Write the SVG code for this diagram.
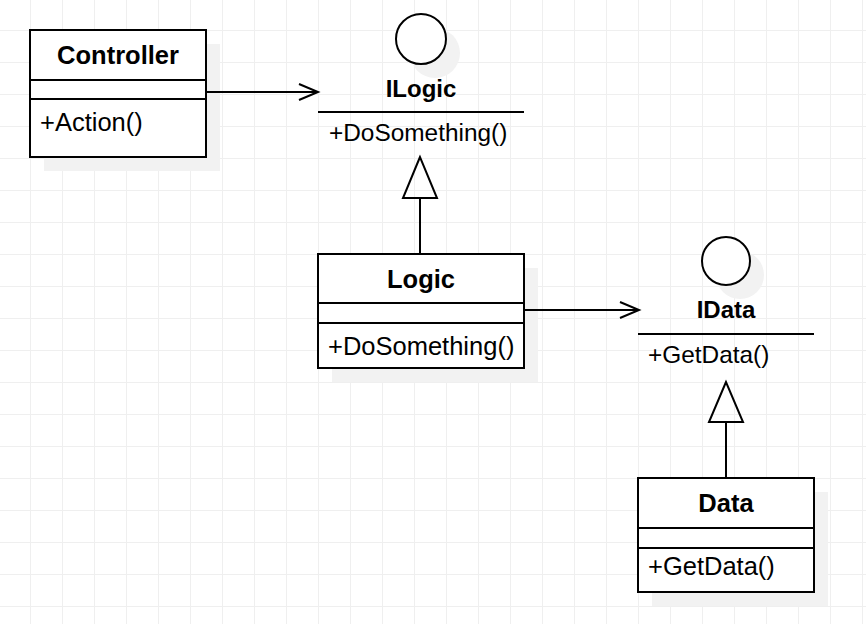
<svg xmlns="http://www.w3.org/2000/svg" width="866" height="624" viewBox="0 0 866 624">
<defs>
<pattern id="grid" x="30" y="30" width="32" height="32" patternUnits="userSpaceOnUse">
<path d="M0.5 0V32M0 0.5H32" fill="none" stroke="#efefef" stroke-width="1"/>
</pattern>
<marker id="open" markerUnits="userSpaceOnUse" markerWidth="24" markerHeight="20" refX="21" refY="10" orient="auto">
<path d="M2 2L21 10L2 18" fill="none" stroke="#000" stroke-width="2"/>
</marker>
</defs>
<style>
.box{fill:#fff;stroke:#000;stroke-width:2}
.sh{fill:#f2f2f2}
.ln{stroke:#000;stroke-width:2;fill:none}
.t{font-family:"Liberation Sans",Arial,sans-serif;font-size:25.5px;fill:#000}
.b{font-weight:bold;text-anchor:middle}
.it{font-size:24.4px}
.ib{font-size:24px}
</style>
<rect width="866" height="624" fill="#fff"/>
<rect width="866" height="624" fill="url(#grid)"/>
<g id="Controller">
<rect class="sh" x="44" y="44" width="176" height="127"/>
<rect class="box" x="30" y="30" width="176" height="127"/>
<path class="ln" d="M30 80H206M30 99H206"/>
<text class="t b" x="118" y="64">Controller</text>
<text class="t" x="40" y="131">+Action()</text>
</g>
<g id="ILogic">
<circle class="sh" cx="435" cy="53" r="25"/>
<circle cx="421" cy="39" r="25" fill="#fff" stroke="#000" stroke-width="2"/>
<text class="t b ib" x="421" y="97">ILogic</text>
<path class="ln" d="M318 112H524"/>
<text class="t it" x="329" y="141">+DoSomething()</text>
</g>
<g id="Logic">
<rect class="sh" x="332" y="268" width="206" height="114"/>
<rect class="box" x="318" y="254" width="206" height="114"/>
<path class="ln" d="M318 303H524M318 323H524"/>
<text class="t b" x="421" y="288">Logic</text>
<text class="t" x="328" y="355">+DoSomething()</text>
</g>
<g id="IData">
<circle class="sh" cx="740" cy="275" r="24"/>
<circle cx="726" cy="261" r="24" fill="#fff" stroke="#000" stroke-width="2"/>
<text class="t b ib" x="726" y="318">IData</text>
<path class="ln" d="M638 334H814"/>
<text class="t it" x="648" y="363">+GetData()</text>
</g>
<g id="Data">
<rect class="sh" x="652" y="492" width="176" height="114"/>
<rect class="box" x="638" y="478" width="176" height="114"/>
<path class="ln" d="M638 528H814M638 548H814"/>
<text class="t b" x="726" y="512">Data</text>
<text class="t" x="648" y="575">+GetData()</text>
</g>
<g id="connectors">
<path class="ln" d="M207 92H318" marker-end="url(#open)"/>
<path class="ln" d="M525 310H639" marker-end="url(#open)"/>
<path class="ln" d="M420 253V198"/>
<path class="ln" d="M420 157L403 198H437Z" fill="#fff"/>
<path class="ln" d="M726 477V422"/>
<path class="ln" d="M726 382L709 422H743Z" fill="#fff"/>
</g>
</svg>
